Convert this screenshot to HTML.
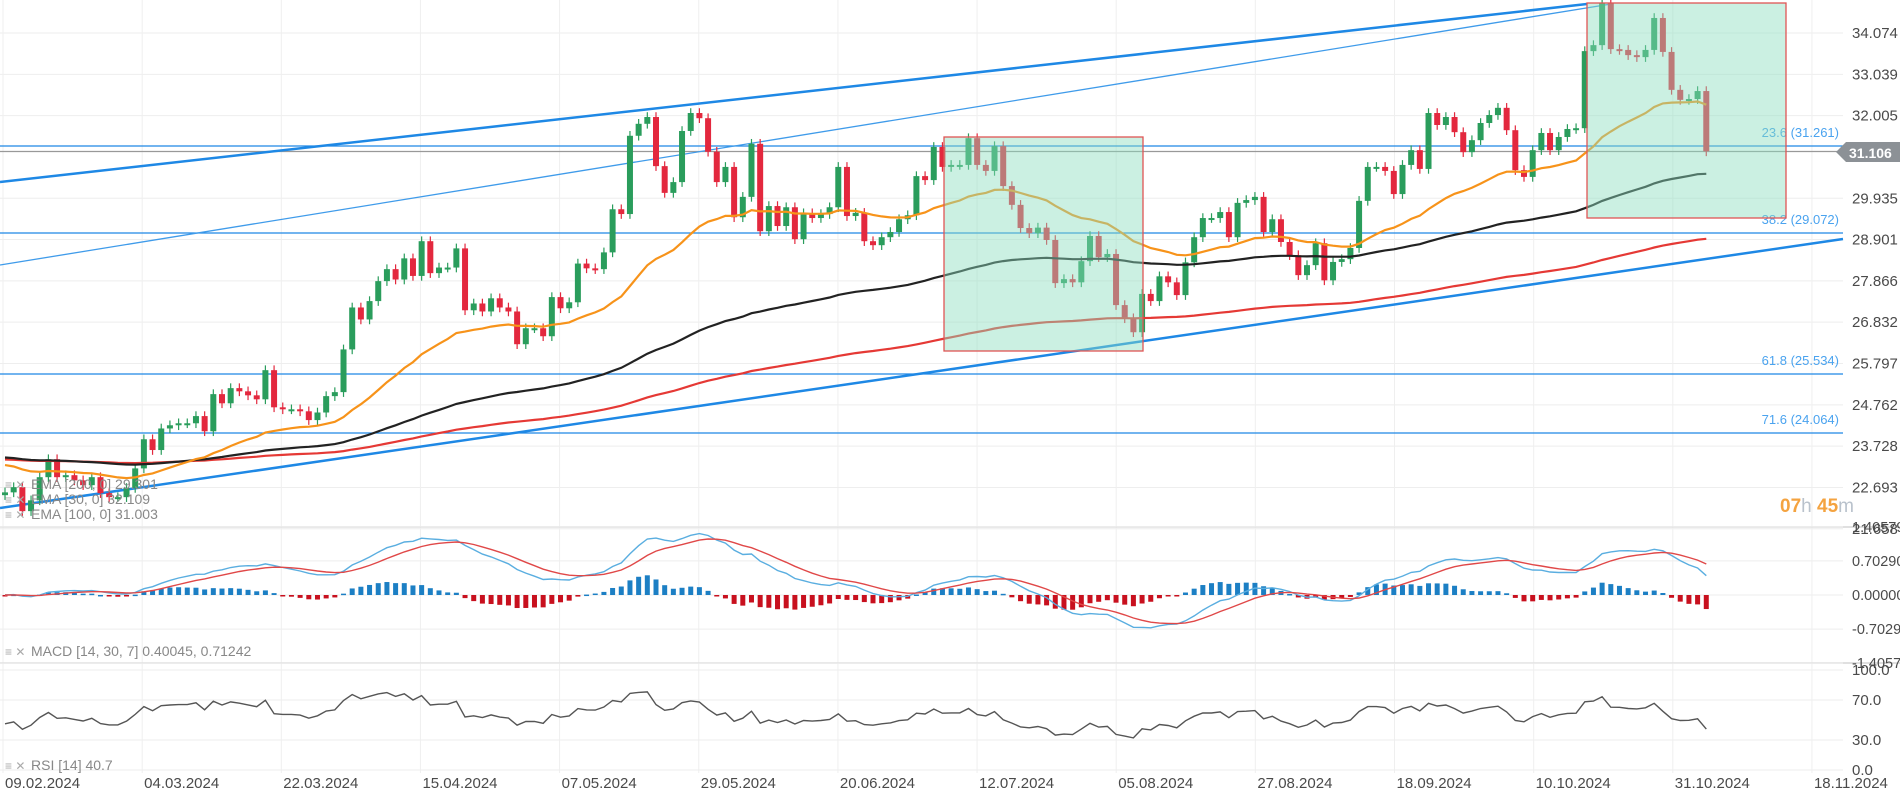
<!DOCTYPE html>
<html><head><meta charset="utf-8"><style>
html,body{margin:0;padding:0;background:#fff;width:1900px;height:798px;overflow:hidden}
svg{display:block}
text{font-family:"Liberation Sans",Arial,sans-serif}
</style></head><body>
<svg id="chart" width="1900" height="798" xmlns="http://www.w3.org/2000/svg">
<g id="grid"></g>
<g id="ann"></g>
<g id="candles"></g>
<g id="inds"></g>
<g id="rects"></g>
<g id="axes"></g>
<g id="legend">
  <text x="31" y="489" font-size="14" fill="#888">EMA [200, 0] 29.301</text>
  <text x="31" y="504" font-size="14" fill="#888">EMA [30, 0] 32.109</text>
  <text x="31" y="519" font-size="14" fill="#888">EMA [100, 0] 31.003</text>
  <text x="31" y="656" font-size="14" fill="#888">MACD [14, 30, 7] 0.40045, 0.71242</text>
  <text x="31" y="770" font-size="14" fill="#888">RSI [14] 40.7</text>
  <text x="5" y="489" font-size="12" fill="#aaa">≡ ✕</text>
  <text x="5" y="504" font-size="12" fill="#aaa">≡ ✕</text>
  <text x="5" y="519" font-size="12" fill="#aaa">≡ ✕</text>
  <text x="5" y="656" font-size="12" fill="#aaa">≡ ✕</text>
  <text x="5" y="770" font-size="12" fill="#aaa">≡ ✕</text>
  <text x="1780" y="512" font-size="19" font-weight="bold"><tspan fill="#f4a340">07</tspan><tspan fill="#b9c2cc" font-weight="normal">h </tspan><tspan fill="#f4a340">45</tspan><tspan fill="#b9c2cc" font-weight="normal">m</tspan></text>
</g>
</svg>
<script>
const closes=[22.57,22.7,22.1,22.37,22.95,23.4,22.95,23.0,22.87,22.75,
22.95,22.55,22.45,22.45,22.68,23.17,23.9,23.63,24.17,24.25,
24.3,24.3,24.48,24.1,25.03,24.8,25.18,25.1,25.0,24.9,
25.63,24.7,24.65,24.65,24.6,24.38,24.57,24.98,25.08,26.15,
27.2,26.9,27.36,27.86,28.16,27.9,28.43,27.99,28.86,28.06,
28.2,28.2,28.68,27.13,27.3,27.1,27.43,27.2,27.1,26.28,
26.68,26.68,26.48,27.46,27.18,27.33,28.3,28.18,28.16,28.58,
29.66,29.54,31.5,31.8,31.97,30.74,30.07,30.34,31.62,32.07,
31.94,31.1,30.34,30.72,29.46,29.97,31.3,29.11,29.74,29.24,
29.71,28.91,29.56,29.44,29.54,29.71,30.72,29.49,29.57,28.86,
28.76,28.96,29.09,29.41,29.51,30.49,30.39,31.22,30.72,30.77,
30.77,31.44,30.77,30.62,31.24,30.24,29.77,29.19,29.06,29.2,
28.89,27.81,27.91,27.83,28.36,28.99,28.46,28.54,27.26,26.93,
26.58,27.54,27.36,27.98,27.83,27.51,28.33,28.96,29.44,29.44,
29.59,28.96,29.82,29.89,29.97,29.09,29.41,28.84,28.51,28.01,
28.26,28.81,27.88,28.34,28.41,28.69,29.87,30.72,30.72,30.62,
30.04,30.77,31.14,30.67,32.07,31.77,31.97,31.59,31.09,31.39,
31.82,32.02,32.2,31.64,30.64,30.47,31.14,31.57,31.14,31.47,
31.67,31.69,33.62,33.77,34.83,33.67,33.65,33.52,33.47,33.65,
34.45,33.6,32.65,32.4,32.42,32.62,31.11];
const firstOpen=22.5;
const emaSeeds=[23.3,23.46,23.4]; // EMA30, EMA100, EMA200 starting levels
const rsiSeeds=[0.12,0.14]; // initial avg gain / avg loss
const priceTicks=["34.074","33.039","32.005","29.935","28.901","27.866","26.832","25.797","24.762","23.728","22.693","21.658"];
const priceTickVals=[34.074,33.039,32.005,29.935,28.901,27.866,26.832,25.797,24.762,23.728,22.693,21.658];
const dateLabels=["09.02.2024","04.03.2024","22.03.2024","15.04.2024","07.05.2024","29.05.2024","20.06.2024","12.07.2024","05.08.2024","27.08.2024","18.09.2024","10.10.2024","31.10.2024","18.11.2024"];
const macdTicks=[1.40579,0.7029,0,-0.7029,-1.40579];
const macdTickLabels=["1.40579","0.70290","0.00000","-0.70290","-1.40579"];
const rsiTicks=[100,70,30,0];
const fibLevels=[31.261,29.072,25.534,24.064];
const fibLabels=["23.6 (31.261)","38.2 (29.072)","61.8 (25.534)","71.6 (24.064)"];
const lastPrice=31.106;

const NS="http://www.w3.org/2000/svg";
const PX=1843;
function xi(i){return 5+i*8.68;}
function yp(p){return 33+(34.074-p)*39.93;}
function ym(v){return 595-v*48.5;}
function yr(v){return 770-v*1.0;}
function el(tag,attrs,parent){const e=document.createElementNS(NS,tag);for(const k in attrs)e.setAttribute(k,attrs[k]);parent.appendChild(e);return e;}
const G=id=>document.getElementById(id);
const grid=G('grid'),ann=G('ann'),cg=G('candles'),ind=G('inds'),rg=G('rects'),ax=G('axes');

priceTickVals.forEach((v,k)=>{
  const l=el('line',{x1:0,x2:PX,y1:yp(v),y2:yp(v),stroke:'#eeeeee','stroke-width':1},grid);
  
  
  const t=el('text',{x:1852,y:yp(v)+5,'font-size':15,fill:'#4a4a4a'},ax);
  t.textContent=priceTicks[k];
  
  
});
dateLabels.forEach((d,k)=>{
  const x=3+k*139.15;
  const l=el('line',{x1:x,x2:x,y1:0,y2:773,stroke:'#efefef','stroke-width':1},grid);
  
  
  const t=el('text',{x:x+2,y:788,'font-size':15,fill:'#4a4a4a'},ax);
  t.textContent=d;
  
  
});
[527,663].forEach(y=>{
  const l=el('line',{x1:0,x2:1900,y1:y,y2:y,stroke:'#d6d6d6','stroke-width':1.5},grid);
  
  
});
macdTicks.forEach((v,k)=>{
  const l=el('line',{x1:0,x2:PX,y1:ym(v),y2:ym(v),stroke:'#eeeeee'},grid);
  
  
  const t=el('text',{x:1852,y:ym(v)+5,'font-size':14.5,fill:'#4a4a4a'},ax);
  t.textContent=macdTickLabels[k];
  
  
});
rsiTicks.forEach(v=>{
  const l=el('line',{x1:0,x2:PX,y1:yr(v),y2:yr(v),stroke:'#eeeeee'},grid);
  
  
  const t=el('text',{x:1852,y:yr(v)+5,'font-size':15,fill:'#4a4a4a'},ax);
  t.textContent=v.toFixed(1);
  
  
});

fibLevels.forEach((v,k)=>{
  const y=k===0?146:(k===1?233:(k===2?374:433));
  const l=el('line',{x1:0,x2:PX,y1:y,y2:y,stroke:'#1e88e5','stroke-width':1.3},ann);
  
  
  const t=el('text',{x:1839,y:y-9,'font-size':13,fill:'#4aa3ef','text-anchor':'end'},ann);
  t.textContent=fibLabels[k];
  
  
});
const lp=el('line',{x1:0,x2:PX,y1:yp(lastPrice),y2:yp(lastPrice),stroke:'#999','stroke-width':1.2},ann);


const tl1=el('line',{x1:0,y1:182,x2:1587,y2:4,stroke:'#1e88e5','stroke-width':2.5},ann);


const tl2=el('line',{x1:0,y1:265,x2:1611,y2:4,stroke:'#3f9bea','stroke-width':1.3},ann);


const tl3=el('line',{x1:0,y1:508,x2:1843,y2:239,stroke:'#1e88e5','stroke-width':2.5},ann);



closes.forEach((c,i)=>{
  const o=i===0?firstOpen:closes[i-1];
  const up=c>=o, col=up?'#2a9d5c':'#e3283e';
  const x=xi(i);
  const hi=Math.max(o,c)+0.12, lo=Math.min(o,c)-0.12;
  const w=el('line',{x1:x,x2:x,y1:yp(hi),y2:yp(lo),stroke:col,'stroke-width':1.2},cg);
  
  
  const top=yp(Math.max(o,c)),h=Math.max(2,yp(Math.min(o,c))-top);
  const b=el('rect',{x:x-3,y:top,width:6,height:h,fill:col},cg);
  
  
});

function ema(arr,n,seed){const k=2/(n+1);let e=seed;return arr.map(v=>(e=v*k+e*(1-k)));}
const ema30=ema(closes,30,emaSeeds[0]),ema100=ema(closes,100,emaSeeds[1]),ema200=ema(closes,200,emaSeeds[2]);
function pathOf(arr,yf){return arr.map((v,i)=>(i?'L':'M')+xi(i).toFixed(1)+' '+yf(v).toFixed(1)).join(' ');}
[[ema200,'#e53935','ema200-line'],[ema100,'#222','ema100-line'],[ema30,'#f7931a','ema30-line']].forEach(([a,c,n])=>{
  const p=el('path',{d:pathOf(a,yp),fill:'none',stroke:c,'stroke-width':2.2},ind);
  
  
});
const f14=ema(closes,14,closes[0]),f30=ema(closes,30,closes[0]);
const macd=f14.map((v,i)=>v-f30[i]);
const sig=ema(macd,7,0);
macd.forEach((v,i)=>{
  const h=(v-sig[i])*1.2;
  const y0=ym(0),y1=ym(h);
  const r=el('rect',{x:xi(i)-2.5,y:Math.min(y0,y1),width:5,height:Math.max(1.5,Math.abs(y1-y0)),fill:h>=0?'#1c7fc4':'#c8101e'},ind);
  
  
});
const mp=el('path',{d:pathOf(macd,ym),fill:'none',stroke:'#5aaee0','stroke-width':1.4},ind);


const sp=el('path',{d:pathOf(sig,ym),fill:'none',stroke:'#e04848','stroke-width':1.4},ind);


const rsi=[];let ag=rsiSeeds[0],al=rsiSeeds[1];
closes.forEach((c,i)=>{
  if(i>0){const d=c-closes[i-1];ag=(ag*13+Math.max(d,0))/14;al=(al*13+Math.max(-d,0))/14;}
  rsi.push(100-100/(1+ag/al));
});
const rp=el('path',{d:pathOf(rsi,yr),fill:'none',stroke:'#555','stroke-width':1.4},ind);



[[944,137,199,214],[1587,3,199,215]].forEach(r=>{
  const e=el('rect',{x:r[0],y:r[1],width:r[2],height:r[3],fill:'rgba(140,222,190,0.45)',stroke:'#e05555','stroke-width':1.3},rg);
  
  
});

const tg=el('path',{d:'M1836 152 L1846 142 L1900 142 L1900 162 L1846 162 Z',fill:'#8c9196'},ax);


const tt=el('text',{x:1849,y:158,'font-size':14,'font-weight':'bold',fill:'#fff'},ax);
tt.textContent=lastPrice.toFixed(3);


</script>
</body></html>
